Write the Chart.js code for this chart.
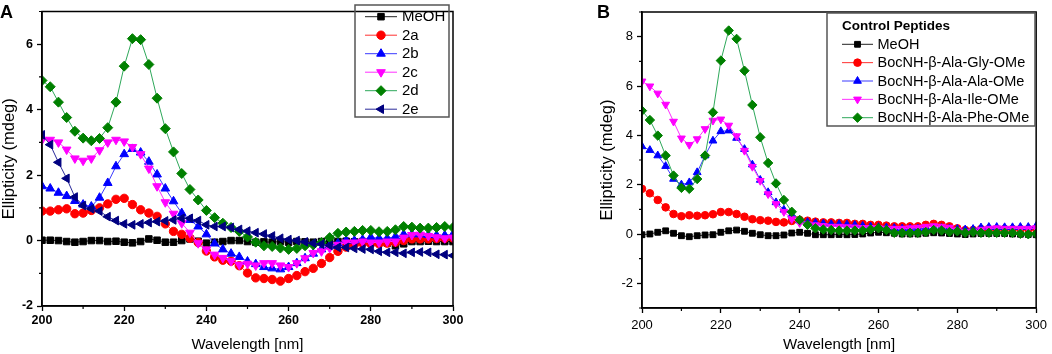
<!DOCTYPE html>
<html><head><meta charset="utf-8">
<script src="https://cdn.jsdelivr.net/npm/chart.js@4.4.1/dist/chart.umd.min.js"></script>
<style>
html,body{margin:0;padding:0;background:#fff;width:1052px;height:354px;overflow:hidden;position:relative;}
#ca{position:absolute;left:0;top:0;}
#cb{position:absolute;left:590px;top:0;}
.lbl{position:absolute;font-family:'Liberation Sans',Arial,sans-serif;font-weight:bold;font-size:18px;line-height:18px;color:#000;}
</style></head><body>
<canvas id="ca" width="470" height="354"></canvas>
<canvas id="cb" width="462" height="354"></canvas>
<div class="lbl" style="left:0px;top:3px">A</div>
<div class="lbl" style="left:597px;top:3px">B</div>
<script>
const wavelengths = [200,202,204,206,208,210,212,214,216,218,220,222,224,226,228,230,232,234,236,238,
 240,242,244,246,248,250,252,254,256,258,260,262,264,266,268,270,272,274,276,278,
 280,282,284,286,288,290,292,294,296,298,300];
const xTicks = [200,220,240,260,280,300];
const yTicksA = [-2,0,2,4,6];
const yTicksB = [-2,0,2,4,6,8];
const labelsA = ['MeOH','2a','2b','2c','2d','2e'];
const labelsB = ['MeOH','BocNH-\u03B2-Ala-Gly-OMe','BocNH-\u03B2-Ala-Ala-OMe','BocNH-\u03B2-Ala-Ile-OMe','BocNH-\u03B2-Ala-Phe-OMe'];
const legendTitleB = 'Control Peptides';
const xTitle = 'Wavelength [nm]';
const yTitle = 'Ellipticity (mdeg)';

const A_MeOH = [0.01,0.01,0.00,-0.03,-0.05,-0.03,0.00,0.00,-0.03,-0.02,
 -0.05,-0.07,-0.03,0.05,0.01,-0.05,-0.05,0.00,0.05,-0.02,
 -0.08,-0.05,-0.03,0.00,0.00,-0.03,-0.05,-0.04,-0.05,-0.03,
 -0.05,-0.03,-0.04,-0.05,-0.03,-0.05,-0.03,-0.02,-0.04,-0.03,
 -0.05,-0.05,-0.08,-0.16,-0.10,-0.03,-0.03,-0.02,-0.03,-0.03,
 -0.03];
const A_2a = [0.90,0.90,0.94,0.97,0.82,0.84,0.92,1.00,1.12,1.26,
 1.29,1.10,0.94,0.84,0.74,0.51,0.28,0.19,0.07,-0.06,
 -0.32,-0.50,-0.60,-0.63,-0.77,-0.99,-1.14,-1.16,-1.19,-1.24,
 -1.16,-1.07,-0.95,-0.85,-0.70,-0.52,-0.33,-0.20,-0.12,-0.08,
 -0.10,-0.10,-0.08,-0.05,0.00,0.05,0.05,0.05,0.06,0.07,
 0.08];
const A_2b = [1.66,1.59,1.46,1.36,1.21,1.10,1.04,1.31,1.76,2.27,
 2.64,2.80,2.69,2.41,2.02,1.59,1.20,0.84,0.63,0.43,
 0.19,-0.09,-0.27,-0.40,-0.50,-0.64,-0.72,-0.81,-0.85,-0.88,
 -0.81,-0.69,-0.54,-0.40,-0.27,-0.16,-0.08,0.00,0.00,0.03,
 0.10,0.07,0.07,0.12,0.19,0.19,0.19,0.17,0.16,0.16,
 0.19];
const A_2c = [3.08,3.08,3.00,2.78,2.51,2.44,2.51,2.76,3.00,3.08,
 3.03,2.86,2.64,2.20,1.66,1.17,0.82,0.53,0.24,-0.08,
 -0.27,-0.43,-0.53,-0.63,-0.74,-0.71,-0.76,-0.69,-0.69,-0.76,
 -0.81,-0.69,-0.54,-0.38,-0.33,-0.23,-0.13,-0.06,-0.06,-0.03,
 -0.06,-0.06,-0.03,-0.03,0.09,0.17,0.18,0.14,0.10,0.07,
 0.09];
const A_2d = [4.89,4.70,4.23,3.76,3.34,3.13,3.05,3.12,3.45,4.23,
 5.33,6.17,6.14,5.38,4.35,3.42,2.71,2.05,1.56,1.24,
 0.92,0.70,0.53,0.40,0.28,0.11,-0.05,-0.16,-0.18,-0.23,
 -0.27,-0.24,-0.16,-0.13,-0.06,0.09,0.22,0.26,0.28,0.31,
 0.31,0.27,0.28,0.33,0.43,0.41,0.38,0.38,0.40,0.43,
 0.40];
const A_2e = [3.23,2.93,2.39,1.90,1.33,1.07,0.97,0.90,0.73,0.61,
 0.51,0.48,0.51,0.55,0.58,0.60,0.63,0.68,0.68,0.61,
 0.48,0.43,0.43,0.40,0.34,0.29,0.24,0.20,0.14,0.07,
 0.03,0.00,-0.04,-0.08,-0.11,-0.15,-0.21,-0.21,-0.24,-0.26,
 -0.27,-0.33,-0.36,-0.36,-0.39,-0.36,-0.35,-0.36,-0.42,-0.43,
 -0.46];

const B_MeOH = [-0.03,0.00,0.07,0.13,0.03,-0.07,-0.11,-0.07,-0.04,-0.03,
 0.07,0.13,0.16,0.11,0.03,-0.03,-0.07,-0.07,-0.04,0.04,
 0.07,0.03,-0.03,-0.03,-0.03,-0.02,-0.03,-0.02,0.00,0.04,
 0.07,0.05,0.03,0.00,0.00,0.00,0.03,0.05,0.04,0.02,
 0.00,-0.02,0.00,0.02,0.02,0.02,0.02,0.00,-0.01,-0.02,
 -0.03];
const B_Gly = [1.83,1.65,1.38,1.08,0.81,0.72,0.76,0.74,0.76,0.80,
 0.89,0.89,0.81,0.70,0.60,0.56,0.54,0.49,0.47,0.53,
 0.57,0.54,0.50,0.47,0.47,0.45,0.45,0.41,0.41,0.37,
 0.37,0.34,0.31,0.31,0.31,0.31,0.37,0.41,0.37,0.31,
 0.23,0.16,0.16,0.20,0.20,0.20,0.20,0.20,0.20,0.20,
 0.20];
const B_Ala = [3.55,3.40,3.18,2.75,2.23,2.00,2.09,2.50,3.18,3.78,
 4.16,4.19,3.89,3.44,2.81,2.19,1.69,1.28,0.98,0.78,
 0.54,0.48,0.45,0.42,0.40,0.40,0.38,0.36,0.33,0.30,
 0.28,0.26,0.24,0.22,0.22,0.22,0.22,0.24,0.24,0.22,
 0.20,0.18,0.20,0.26,0.28,0.28,0.27,0.27,0.28,0.28,
 0.32];
const B_Ile = [6.19,5.99,5.70,5.25,4.56,3.88,3.62,3.85,4.26,4.60,
 4.65,4.40,3.97,3.38,2.73,2.16,1.62,1.22,0.90,0.61,
 0.45,0.40,0.36,0.33,0.30,0.30,0.28,0.27,0.25,0.25,
 0.24,0.22,0.22,0.22,0.24,0.26,0.30,0.32,0.30,0.26,
 0.16,0.08,0.10,0.18,0.22,0.24,0.22,0.22,0.22,0.22,
 0.24];
const B_Phe = [5.00,4.62,3.99,3.18,2.37,1.87,1.83,2.23,3.18,4.93,
 7.03,8.25,7.91,6.62,5.23,3.92,2.88,2.05,1.38,0.90,
 0.57,0.37,0.23,0.18,0.16,0.14,0.14,0.14,0.14,0.18,
 0.23,0.16,0.05,0.05,0.05,0.05,0.08,0.16,0.14,0.08,
 0.11,0.05,0.08,0.05,0.05,0.05,0.05,0.05,0.01,-0.01,
 0.01];

const FONT = "'Liberation Sans', Arial, sans-serif";
// style per series: [marker color, line color, pointStyle, rotation]
const STY = {
  black:['#000000','#222222','rect',0],
  red:['#ff0000','#ff3030','circle',0],
  blue:['#0000ff','#3a3aff','triangle',0],
  magenta:['#ff00ff','#ff30ff','triangle',180],
  green:['#008000','#2ea85a','rectRot',0],
  navy:['#000080','#2a2a9a','triangle',-90]
};

function mkDs(label, values, sty, radius, n, idx) {
  const s = STY[sty];
  return {
    label: label,
    data: values.map((v,i)=>({x: wavelengths[i], y: v})),
    borderColor: s[1], backgroundColor: s[0],
    pointBackgroundColor: s[0], pointBorderColor: s[0],
    pointStyle: s[2], pointRotation: s[3], pointRadius: radius,
    pointBorderWidth: 1, borderWidth: 1, tension: 0, fill: false,
    clip: 0, order: n - idx
  };
}

function drawMarker(ctx, style, rot, x, y, r, color) {
  ctx.save();
  ctx.fillStyle = color; ctx.strokeStyle = color; ctx.lineWidth = 1;
  ctx.beginPath();
  if (style === 'circle') { ctx.arc(x, y, r, 0, Math.PI*2); }
  else if (style === 'rect') { const s = r*Math.SQRT1_2; ctx.rect(x-s, y-s, 2*s, 2*s); }
  else if (style === 'rectRot') { ctx.moveTo(x, y-r); ctx.lineTo(x+r, y); ctx.lineTo(x, y+r); ctx.lineTo(x-r, y); ctx.closePath(); }
  else {
    let a = rot*Math.PI/180;
    for (let k=0;k<3;k++) {
      const px = x + Math.sin(a)*r, py = y - Math.cos(a)*r;
      if (k===0) ctx.moveTo(px,py); else ctx.lineTo(px,py);
      a += 2*Math.PI/3;
    }
    ctx.closePath();
  }
  ctx.fill(); ctx.stroke();
  ctx.restore();
}

const framePlugin = {
  id: 'frameMinor',
  afterDraw(chart, args, o) {
    const ctx = chart.ctx, a = chart.chartArea;
    ctx.save();
    ctx.strokeStyle = '#000'; ctx.lineWidth = 1.5;
    ctx.strokeRect(a.left, a.top, a.right - a.left, a.bottom - a.top);
    ctx.lineWidth = 1.2;
    const xs = chart.scales.x, ys = chart.scales.y;
    const xt = xs.ticks.map(t=>t.value), yt = ys.ticks.map(t=>t.value);
    const xStep = xt[1]-xt[0], yStep = yt[1]-yt[0];
    ctx.beginPath();
    for (let v = xt[0] - xStep/2; v <= xs.max + 1e-9; v += xStep) {
      if (v < xs.min - 1e-9) continue;
      const p = xs.getPixelForValue(v);
      ctx.moveTo(p, a.bottom); ctx.lineTo(p, a.bottom + o.minorLen);
    }
    for (let v = yt[0] - yStep/2; v <= ys.max + 1e-9; v += yStep) {
      if (v < ys.min - 1e-9) continue;
      const p = ys.getPixelForValue(v);
      ctx.moveTo(a.left, p); ctx.lineTo(a.left - o.minorLen, p);
    }
    ctx.stroke();
    // legend
    const L = o.legend;
    ctx.lineWidth = 1.5; ctx.strokeStyle = '#555';
    ctx.strokeRect(L.x, L.y, L.w, L.h);
    ctx.fillStyle = '#000'; ctx.textBaseline = 'middle'; ctx.textAlign = 'left';
    if (L.title) {
      ctx.font = 'bold ' + L.titleSize + 'px ' + FONT;
      ctx.fillText(L.title, L.titleX, L.titleY);
    }
    ctx.font = L.fontSize + 'px ' + FONT;
    chart.data.datasets.forEach((d, i) => {
      const yy = L.firstY + i*L.step;
      ctx.strokeStyle = d.borderColor; ctx.lineWidth = 1;
      ctx.beginPath(); ctx.moveTo(L.lineX0, yy); ctx.lineTo(L.lineX1, yy); ctx.stroke();
      drawMarker(ctx, d.pointStyle, d.pointRotation, (L.lineX0+L.lineX1)/2, yy, d.pointRadius, d.pointBackgroundColor);
      ctx.fillStyle = '#000';
      ctx.fillText(d.label, L.textX, yy + 0.5);
    });
    ctx.restore();
  }
};

function scalesFor(yTicks, ymin, ymax, yW, xH, tickFont, xPad, yTitlePad) {
  return {
    x: {
      type: 'linear', min: 200, max: 300,
      afterBuildTicks: s => { s.ticks = xTicks.map(v => ({value: v})); },
      afterFit: s => { s.height = xH; },
      ticks: { font: tickFont, color: '#000', padding: xPad, maxRotation: 0, autoSkip: false },
      grid: { drawOnChartArea: false, drawTicks: true, tickLength: 5, tickColor: '#000', tickWidth: 1.3 },
      border: { display: true, color: '#000', width: 1.5 },
      title: { display: true, text: xTitle, font: {family: FONT, size: 15}, color: '#000', padding: {top:0, bottom:0} }
    },
    y: {
      type: 'linear', min: ymin, max: ymax,
      afterBuildTicks: s => { s.ticks = yTicks.map(v => ({value: v})); },
      afterFit: s => { s.width = yW; },
      ticks: { font: tickFont, color: '#000', padding: 4 },
      grid: { drawOnChartArea: false, drawTicks: true, tickLength: 5, tickColor: '#000', tickWidth: 1.3 },
      border: { display: true, color: '#000', width: 1.5 },
      title: { display: true, text: yTitle, font: {family: FONT, size: 16.5}, color: '#000', padding: {top: yTitlePad, bottom: 0} }
    }
  };
}

Chart.defaults.font.family = FONT;

new Chart(document.getElementById('ca'), {
  type: 'line',
  data: { datasets: [
    mkDs(labelsA[0], A_MeOH, 'black', 4.6, 6, 0),
    mkDs(labelsA[1], A_2a, 'red', 4.2, 6, 1),
    mkDs(labelsA[2], A_2b, 'blue', 5, 6, 2),
    mkDs(labelsA[3], A_2c, 'magenta', 5, 6, 3),
    mkDs(labelsA[4], A_2d, 'green', 5, 6, 4),
    mkDs(labelsA[5], A_2e, 'navy', 5, 6, 5)
  ]},
  options: {
    responsive: false, animation: false, devicePixelRatio: 1,
    layout: { padding: { left: 0, right: 17, top: 1, bottom: 0 } },
    plugins: { legend: { display: false }, tooltip: { enabled: false },
      frameMinor: { minorLen: 3, legend: { x: 355, y: 5, w: 94, h: 112, firstY: 16.7, step: 18.5,
        lineX0: 365, lineX1: 397, textX: 402, fontSize: 15 } } },
    scales: scalesFor(yTicksA, -2, 7, 42, 48, {family: FONT, size: 12.5, weight: 'bold'}, 2.5, 0)
  },
  plugins: [framePlugin]
});

new Chart(document.getElementById('cb'), {
  type: 'line',
  data: { datasets: [
    mkDs(labelsB[0], B_MeOH, 'black', 4.1, 5, 0),
    mkDs(labelsB[1], B_Gly, 'red', 3.8, 5, 1),
    mkDs(labelsB[2], B_Ala, 'blue', 4.5, 5, 2),
    mkDs(labelsB[3], B_Ile, 'magenta', 4.5, 5, 3),
    mkDs(labelsB[4], B_Phe, 'green', 4.7, 5, 4)
  ]},
  options: {
    responsive: false, animation: false, devicePixelRatio: 1,
    layout: { padding: { left: 0, right: 10, top: 12, bottom: 0 } },
    plugins: { legend: { display: false }, tooltip: { enabled: false },
      frameMinor: { minorLen: 3, legend: { x: 237, y: 13, w: 208, h: 113, title: legendTitleB, titleX: 252, titleY: 26.7, titleSize: 13.5,
        firstY: 44.3, step: 18.35, lineX0: 252, lineX1: 283, textX: 287.5, fontSize: 14.5 } } },
    scales: scalesFor(yTicksB, -3, 9, 52, 46, {family: FONT, size: 13}, 5, 8)
  },
  plugins: [framePlugin]
});
</script></body></html>
